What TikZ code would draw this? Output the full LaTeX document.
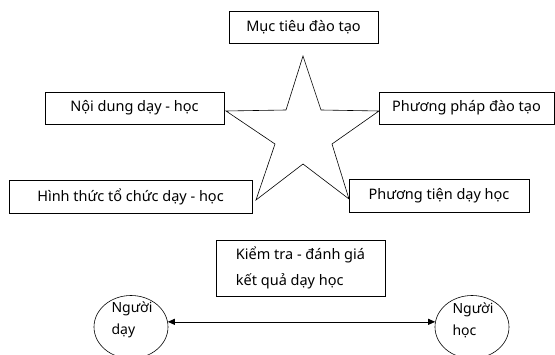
\documentclass[tikz,border=0pt]{standalone}
\usepackage{fontspec}
\setmainfont{Noto Sans}
\usetikzlibrary{arrows.meta,shapes.geometric}
\begin{document}
\begin{tikzpicture}[x=1pt,y=-1pt,
  lbl/.style={draw,line width=0.6pt,rectangle,inner sep=0pt,font=\fontsize{14.5}{18}\selectfont},
  circ/.style={draw,line width=0.6pt,ellipse,inner sep=0pt,minimum width=74pt,minimum height=63pt},
  ctext/.style={inner sep=0pt,align=left,font=\fontsize{14}{22}\selectfont}]
\useasboundingbox (0,0) rectangle (555,355);
\node[lbl,minimum width=149pt,minimum height=32pt] (muc) at (303.5,27) {Mục tiêu đào tạo};
\node[lbl,minimum width=179pt,minimum height=32pt] (noi) at (134.5,108) {Nội dung dạy - học};
\node[lbl,minimum width=175pt,minimum height=32pt] (pp) at (466.5,108) {Phương pháp đào tạo};
\node[lbl,minimum width=243pt,minimum height=33pt] (ht) at (130.5,196.5) {Hình thức tổ chức dạy - học};
\node[lbl,minimum width=180pt,minimum height=33pt] (ptien) at (439,195.5) {Phương tiện dạy học};
\node[lbl,minimum width=169pt,minimum height=56pt,align=left,font=\fontsize{14.5}{26}\selectfont] (kt) at (300.5,268) {Kiểm tra - đánh giá\\kết quả dạy học};
\node[circ] (nd) at (131,327) {};
\node[circ] (nh) at (472,327) {};
\node[ctext] (ndt) at (132,320) {Người\\dạy};
\node[ctext] (nht) at (473,320) {Người\\học};
\draw[line width=0.6pt,{Triangle[length=7pt,width=6pt]}-{Triangle[length=7pt,width=6pt]}] (nd.8) -- (nh.172);
\draw[line width=0.6pt,line join=miter] (303,56) -- (321,110) -- (379,111) -- (332,144) -- (349,199) -- (303,164) -- (256,200) -- (275,144) -- (226,111) -- (286,110) -- cycle;
\end{tikzpicture}
\end{document}
